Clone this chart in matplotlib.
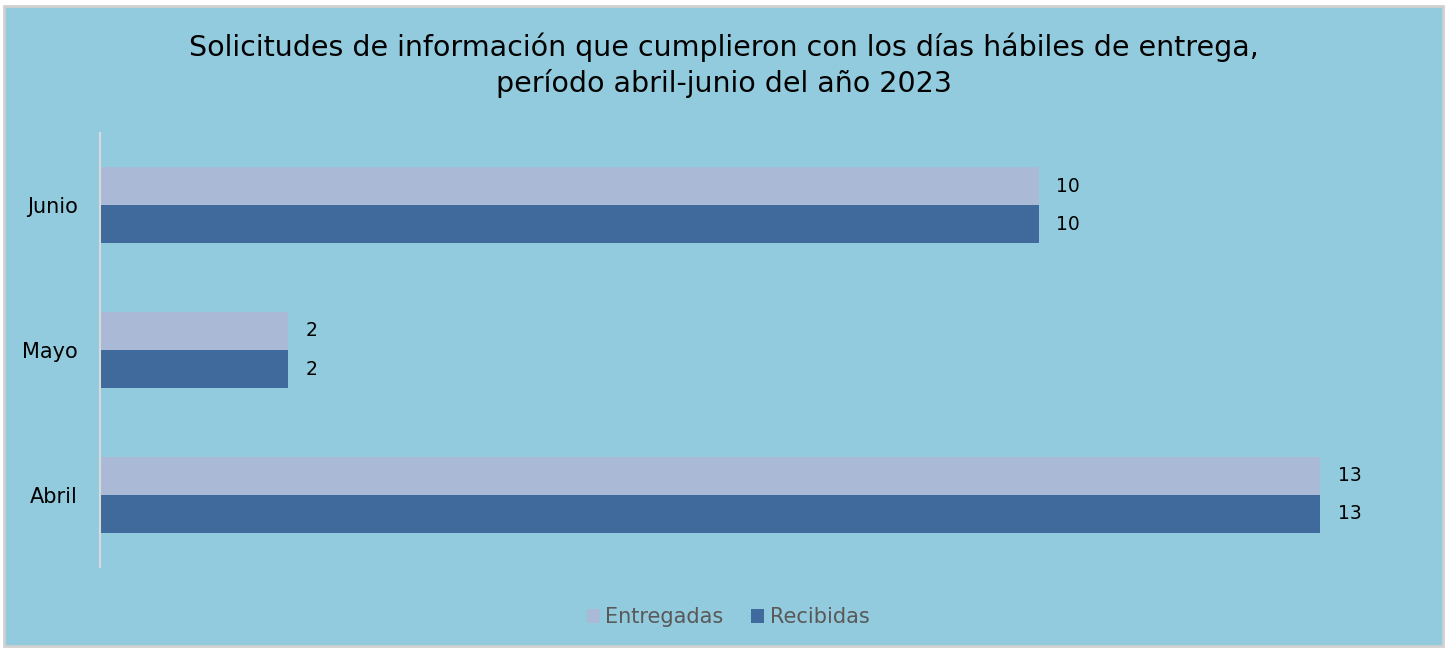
import matplotlib.pyplot as plt
from matplotlib.patches import Rectangle
import numpy as np

meses = ["Abril", "Mayo", "Junio"]
entregadas = [13, 2, 10]
recibidas = [13, 2, 10]

titulo = ("Solicitudes de información que cumplieron con los días hábiles de entrega,\n"
          "período abril-junio del año 2023")

bg = "#92CBDD"
c_ent = "#AAB9D6"
c_rec = "#3F6A9B"

W, H = 1447, 648
fig = plt.figure(figsize=(W / 100, H / 100), dpi=100, facecolor="white")
fig.patches.append(Rectangle((4 / W, 2 / H), 1439 / W, 640 / H, transform=fig.transFigure,
                             facecolor=bg, edgecolor="#D0D0D0", linewidth=2, zorder=-5))

ax = fig.add_axes([100 / W, 1 - 567 / H, 1314 / W, 434 / H])
ax.set_facecolor("none")

y = np.arange(len(meses))
h = 0.263
ax.barh(y + h / 2, entregadas, height=h, color=c_ent, label="Entregadas")
ax.barh(y - h / 2, recibidas, height=h, color=c_rec, label="Recibidas")

for yi, v in zip(y, entregadas):
    ax.text(v + 0.19, yi + h / 2, str(v), va="center", ha="left", fontsize=13.5)
for yi, v in zip(y, recibidas):
    ax.text(v + 0.19, yi - h / 2, str(v), va="center", ha="left", fontsize=13.5)

ax.set_xlim(0, 14)
ax.set_ylim(-0.5, 2.5)
ax.set_yticks(y)
ax.set_yticklabels(meses, fontsize=15)
ax.tick_params(axis="y", length=0, pad=16)
ax.set_xticks([])
for s in ["top", "right", "bottom"]:
    ax.spines[s].set_visible(False)
ax.spines["left"].set_color("#D9D9D9")
ax.spines["left"].set_linewidth(1.5)

fig.text(0.5, 1 - 65 / H, titulo, ha="center", va="center", fontsize=20.5, linespacing=1.3)

leg = fig.legend(loc="center", bbox_to_anchor=(728 / W, 1 - 617 / H), ncol=2, frameon=False,
                 fontsize=15, handlelength=0.65, handleheight=0.65, handletextpad=0.25,
                 columnspacing=1.3)
for t in leg.get_texts():
    t.set_color("#595959")

fig.savefig("out.png", dpi=100, facecolor="white")
